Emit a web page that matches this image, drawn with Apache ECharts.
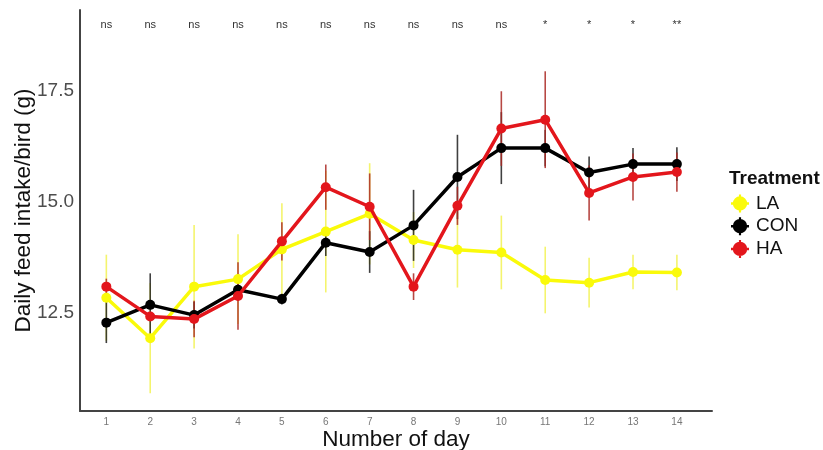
<!DOCTYPE html>
<html>
<head>
<meta charset="utf-8">
<script src="https://cdn.jsdelivr.net/npm/echarts@6/dist/echarts.min.js"></script>
<style>
  html, body { margin: 0; padding: 0; background: #fff; }
  #chart { width: 823px; height: 450px; }
</style>
</head>
<body>
<div id="chart"></div>
<script>
// days on the x axis
const days = [1, 2, 3, 4, 5, 6, 7, 8, 9, 10, 11, 12, 13, 14];
// significance marks printed above each day
const sigLabels = ['ns', 'ns', 'ns', 'ns', 'ns', 'ns', 'ns', 'ns', 'ns', 'ns', '*', '*', '*', '**'];
const yTicks = [12.5, 15.0, 17.5];

// means (g)
const laMean  = [12.84, 11.93, 13.09, 13.26, 13.93, 14.33, 14.73, 14.14, 13.92, 13.86, 13.24, 13.18, 13.42, 13.41];
const conMean = [12.28, 12.68, 12.45, 13.02, 12.81, 14.08, 13.87, 14.47, 15.56, 16.21, 16.21, 15.66, 15.85, 15.85];
const haMean  = [13.09, 12.42, 12.36, 12.88, 14.11, 15.33, 14.89, 13.09, 14.91, 16.65, 16.85, 15.20, 15.56, 15.67];

// error bar half widths
const laErr  = [0.97, 1.24, 1.39, 1.01, 1.04, 1.37, 1.14, 0.63, 0.85, 0.83, 0.75, 0.56, 0.39, 0.40];
const conErr = [0.46, 0.71, 0.30, 0.25, 0.12, 0.30, 0.47, 0.80, 0.95, 0.81, 0.41, 0.36, 0.36, 0.38];
const haErr  = [0.18, 0.10, 0.41, 0.76, 0.43, 0.51, 0.75, 0.30, 0.43, 0.84, 1.09, 0.62, 0.53, 0.44];

const groups = [
  { name: 'LA',  mean: laMean,  err: laErr,  color: '#fafa0a', barColor: 'rgba(240,240,60,0.75)' },
  { name: 'CON', mean: conMean, err: conErr, color: '#000000', barColor: 'rgba(30,30,30,0.85)' },
  { name: 'HA',  mean: haMean,  err: haErr,  color: '#e3161c', barColor: 'rgba(170,40,35,0.85)' }
];

const legendIcon = 'path://M9,5 A4,4 0 1 1 1,5 A4,4 0 1 1 9,5 Z M0,4.3 L10,4.3 L10,5.7 L0,5.7 Z M4.4,0 L5.6,0 L5.6,10 L4.4,10 Z';

const chart = echarts.init(document.getElementById('chart'));

const series = [];
groups.forEach(function (g) {
  series.push({
    type: 'custom',
    name: g.name + '-err',
    z: 1,
    silent: true,
    data: days.map((d, i) => [d, g.mean[i] - g.err[i], g.mean[i] + g.err[i]]),
    renderItem: function (params, api) {
      const lo = api.coord([api.value(0), api.value(1)]);
      const hi = api.coord([api.value(0), api.value(2)]);
      return {
        type: 'line',
        shape: { x1: lo[0], y1: lo[1], x2: hi[0], y2: hi[1] },
        style: { stroke: g.barColor, lineWidth: 1.6 }
      };
    }
  });
});
groups.forEach(function (g, k) {
  series.push({
    type: 'line',
    name: g.name,
    z: 2 + k,
    data: days.map((d, i) => [d, g.mean[i]]),
    symbol: 'circle',
    symbolSize: 10,
    color: g.color,
    lineStyle: { width: 3.5, color: g.color },
    itemStyle: { color: g.color },
    emphasis: { disabled: true }
  });
});

const option = {
  animation: false,
  backgroundColor: '#fff',
  title: {
    text: 'Treatment',
    left: 724,
    top: 164,
    textStyle: { fontFamily: 'Liberation Sans', fontSize: 19, fontWeight: 'bold', color: '#111' }
  },
  legend: {
    data: groups.map(g => ({ name: g.name, icon: legendIcon })),
    orient: 'vertical',
    left: 726,
    top: 189,
    itemWidth: 22,
    itemHeight: 18,
    itemGap: 3.7,
    textStyle: { fontFamily: 'Liberation Sans', fontSize: 19, color: '#111' }
  },
  grid: { left: 80, right: 111, top: 10, bottom: 39, outerBoundsMode: 'none' },
  xAxis: [
    {
      type: 'value',
      min: 0.4,
      max: 14.8,
      name: 'Number of day',
      nameLocation: 'middle',
      nameGap: 17,
      nameMoveOverlap: false,
      nameTextStyle: { fontFamily: 'Liberation Sans', fontSize: 22.5, color: '#111' },
      axisLine: { show: true, lineStyle: { color: '#444', width: 2 } },
      axisTick: { show: false },
      splitLine: { show: false },
      axisLabel: {
        customValues: days,
        fontFamily: 'Liberation Sans',
        fontSize: 10,
        color: '#777',
        margin: 6
      }
    },
    {
      type: 'value',
      position: 'top',
      min: 0.4,
      max: 14.8,
      axisLine: { show: false },
      axisTick: { show: false },
      splitLine: { show: false },
      axisLabel: {
        inside: true,
        customValues: days,
        formatter: v => sigLabels[days.indexOf(v)],
        fontFamily: 'Liberation Sans',
        fontSize: 11,
        color: '#333',
        margin: 9
      }
    }
  ],
  yAxis: {
    type: 'value',
    min: 10.29,
    max: 19.32,
    name: 'Daily feed intake/bird (g)',
    nameLocation: 'middle',
    nameGap: 45,
    nameMoveOverlap: false,
    nameTextStyle: { fontFamily: 'Liberation Sans', fontSize: 22.5, color: '#111' },
    axisLine: { show: true, lineStyle: { color: '#444', width: 2 } },
    axisTick: { show: false },
    splitLine: { show: false },
    axisLabel: {
      customValues: yTicks,
      formatter: v => v.toFixed(1),
      fontFamily: 'Liberation Sans',
      fontSize: 19,
      color: '#4d4d4d',
      margin: 6
    }
  },
  series: series
};

chart.setOption(option);
</script>
</body>
</html>
